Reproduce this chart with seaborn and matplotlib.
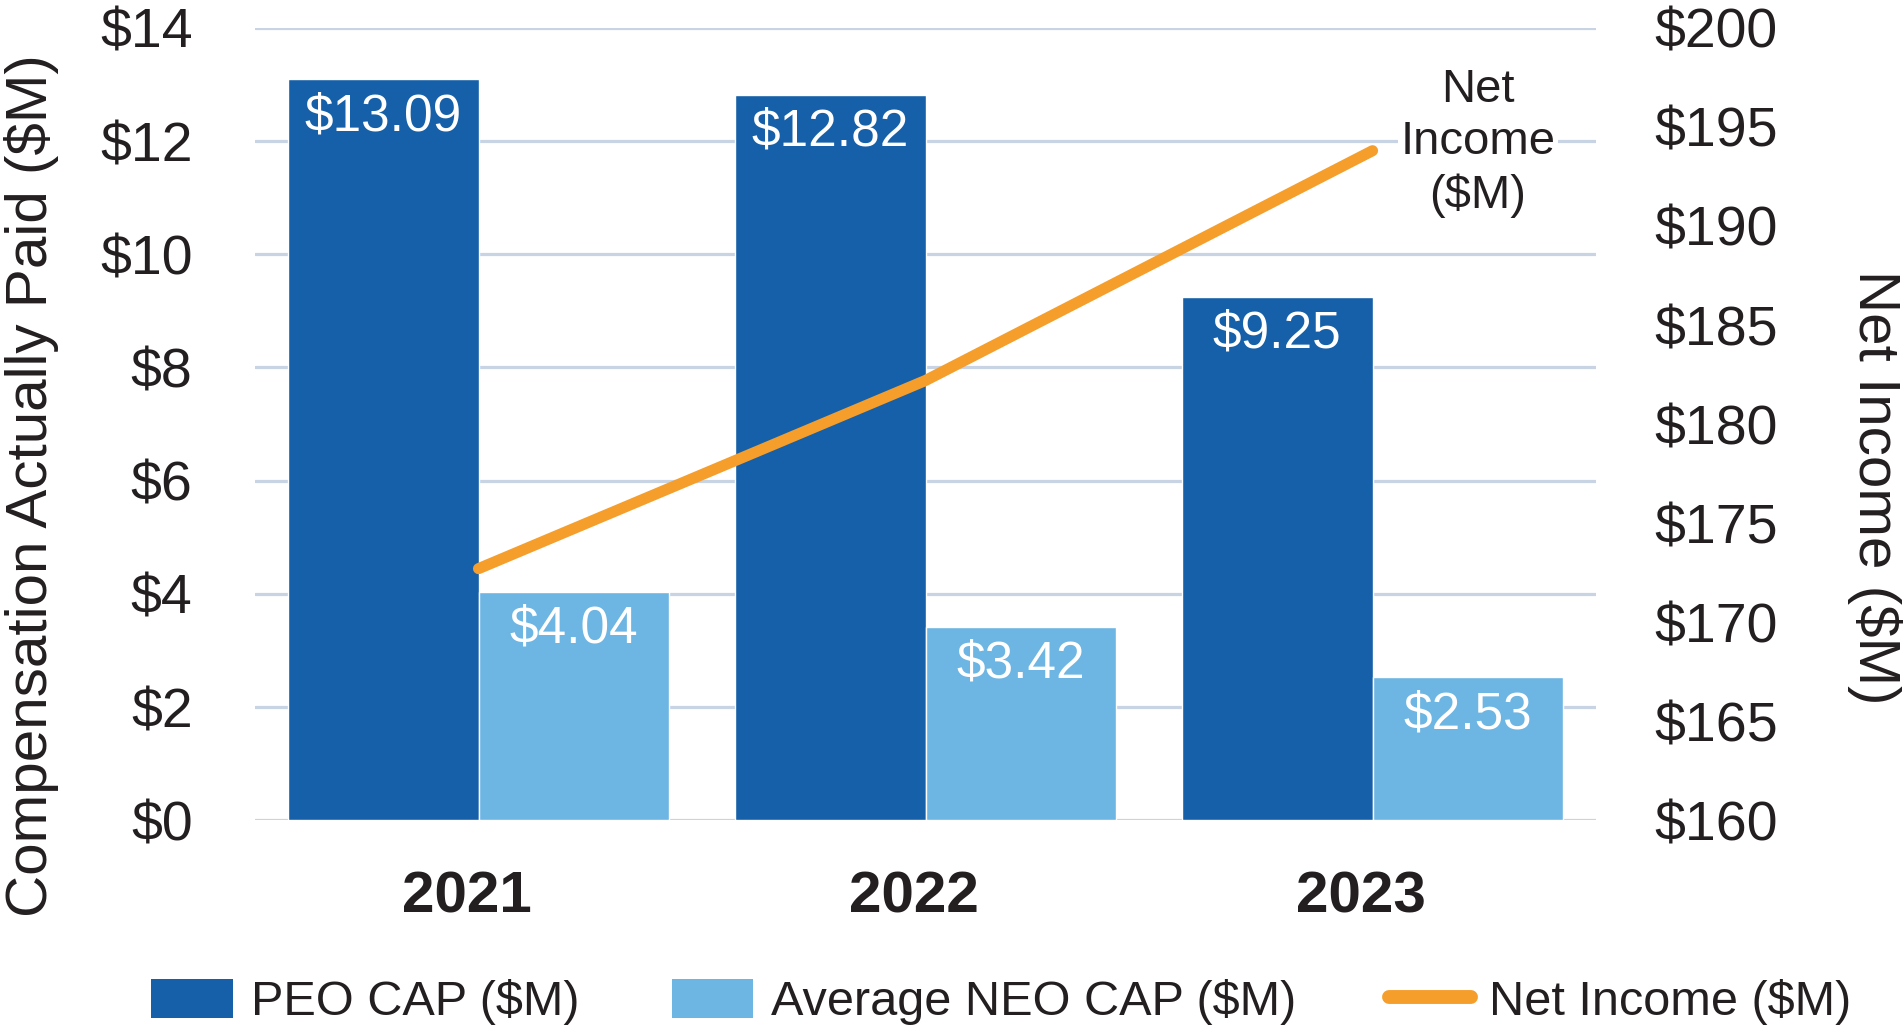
import matplotlib
matplotlib.use("Agg")
import matplotlib.pyplot as plt
import matplotlib.transforms as mtransforms
import seaborn as sns
import pandas as pd
import numpy as np
from matplotlib.patches import Patch
from matplotlib.lines import Line2D

years = ["2021", "2022", "2023"]
peo_cap = [13.09, 12.82, 9.25]
neo_cap = [4.04, 3.42, 2.53]
net_income = [172.7, 182.2, 193.8]
series_names = ["PEO CAP ($M)", "Average NEO CAP ($M)"]
line_name = "Net Income ($M)"
left_ticks = [0, 2, 4, 6, 8, 10, 12, 14]
right_ticks = [160, 165, 170, 175, 180, 185, 190, 195, 200]

dark_blue = "#1560A8"
light_blue = "#6DB5E2"
orange = "#F59E2B"
grid_col = "#C8D3E4"
text_col = "#231F20"

sns.set_theme(style="white")
plt.rcParams['font.family'] = ['Liberation Sans', 'DejaVu Sans']

df = pd.DataFrame({
    "Year": years * 2,
    "Value": peo_cap + neo_cap,
    "Series": [series_names[0]] * 3 + [series_names[1]] * 3,
})

fig = plt.figure(figsize=(19.03, 10.33), dpi=100)
ax = fig.add_axes([0.134, 0.206, 0.7047, 0.767])

sns.barplot(data=df, x="Year", y="Value", hue="Series", order=years,
            hue_order=series_names, palette=[dark_blue, light_blue],
            width=0.853, gap=0, saturation=1, ax=ax, legend=False, zorder=2)

ax.set_ylim(0, 14)
ax.set_xlim(-0.5, 2.5)
ax.set_yticks(left_ticks)
ax.set_yticklabels([f"${t}" for t in left_ticks], fontsize=40, color=text_col)
ax.yaxis.grid(True, color=grid_col, linewidth=2.3, zorder=0)
ax.set_axisbelow(True)
ax.tick_params(axis='y', length=0, pad=45)
ax.tick_params(axis='x', length=0, pad=36)
shift = mtransforms.ScaledTranslation(-0.12, 0, fig.dpi_scale_trans)
for lab in ax.get_xticklabels():
    lab.set_fontsize(42)
    lab.set_fontweight('bold')
    lab.set_color(text_col)
    lab.set_transform(lab.get_transform() + shift)
ax.set_xlabel("")
ax.set_ylabel("Compensation Actually Paid ($M)", fontsize=42, color=text_col,
              va="center")
ax.yaxis.set_label_coords(-0.167, 0.422)
for s in ax.spines.values():
    s.set_visible(False)

for cont in ax.containers:
    for p in cont:
        h = p.get_height()
        ax.annotate(f"${h:.2f}", (p.get_x() + p.get_width() / 2, h),
                    xytext=(0, -27), textcoords="offset points",
                    ha="center", va="center", color="white", fontsize=37, zorder=5)

ax2 = ax.twinx()
ax2.set_position(ax.get_position())
sns.lineplot(x=np.arange(len(years)), y=net_income, ax=ax2, color=orange,
             linewidth=8, solid_capstyle='round', zorder=4)
ax2.set_ylim(160, 200)
ax2.set_yticks(right_ticks)
ax2.set_yticklabels([f"${t}" for t in right_ticks], fontsize=40, color=text_col)
ax2.tick_params(axis='y', length=0, pad=42)
ax2.set_ylabel("Net Income ($M)", fontsize=42, color=text_col, rotation=270,
               va="center")
ax2.yaxis.set_label_coords(1.208, 0.42)
ax2.grid(False)
for s in ax2.spines.values():
    s.set_visible(False)
ax2.set_xlim(-0.5, 2.5)

ax2.text(2.236, 194.2, "Net\nIncome\n($M)", ha="center", va="center",
         fontsize=34, color=text_col, linespacing=1.25,
         bbox=dict(facecolor="white", edgecolor="none", pad=2), zorder=6)

handles = [Patch(facecolor=dark_blue, edgecolor='none'),
           Patch(facecolor=light_blue, edgecolor='none'),
           Line2D([0], [0], color=orange, linewidth=10, solid_capstyle='round')]
fig.legend(handles, series_names + [line_name], loc="center",
           bbox_to_anchor=(0.526, 0.030), ncol=3, frameon=False,
           fontsize=35, handlelength=1.68, handleheight=0.85,
           handletextpad=0.37, columnspacing=1.9, labelcolor=text_col)

fig.savefig("out.png", dpi=100)
